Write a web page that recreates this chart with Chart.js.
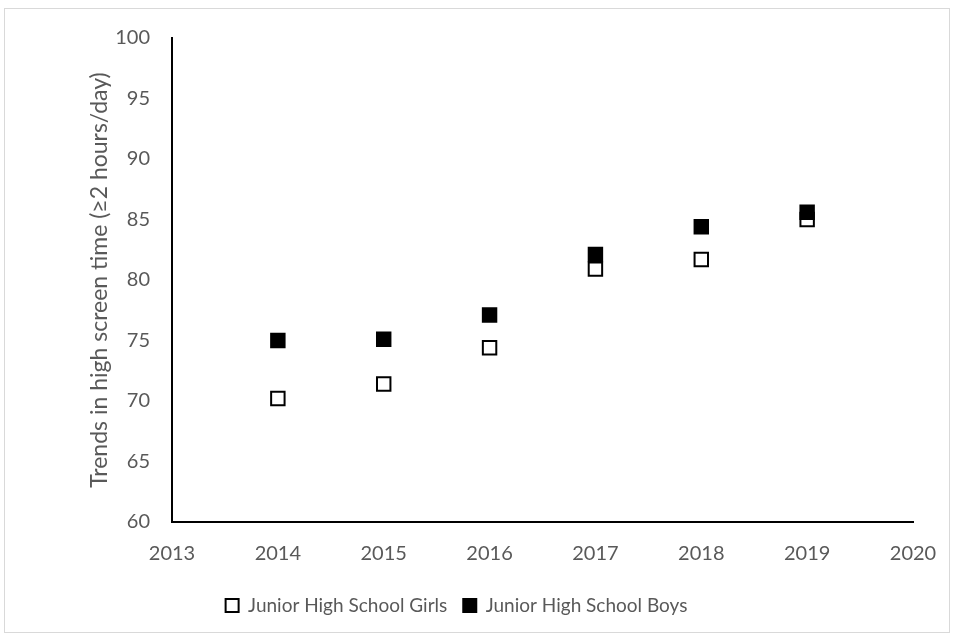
<!DOCTYPE html>
<html>
<head>
<meta charset="utf-8">
<script src="https://cdn.jsdelivr.net/npm/chart.js@4/dist/chart.umd.min.js"></script>
<style>
  html, body { margin: 0; padding: 0; background: #ffffff; }
  #wrap { position: relative; width: 955px; height: 639px; }
  #frame { position: absolute; left: 4px; top: 8px; width: 946px; height: 625px;
           border: 1px solid #d9d9d9; pointer-events: none; box-sizing: border-box; }
  canvas { display: block; }
</style>
</head>
<body>
<div id="wrap">
  <canvas id="chart" width="955" height="639"></canvas>
  <div id="frame"></div>
</div>
<script>
// Survey years and share of students with high screen time (%)
const years = [2014, 2015, 2016, 2017, 2018, 2019];
const girls = [70.2, 71.4, 74.4, 80.9, 81.7, 85.0];
const boys  = [75.0, 75.1, 77.1, 82.1, 84.4, 85.6];

const seriesNames = ['Junior High School Girls', 'Junior High School Boys'];
const yTitle = 'Trends in high screen time (\u22652 hours/day)';
const xRange = [2013, 2020];
const yRange = [60, 100];

const textColor = '#595959';
const fontFamily = 'Lato, Carlito, Calibri, sans-serif';

const toPoints = (vals) => years.map((yr, i) => ({ x: yr, y: vals[i] }));

new Chart(document.getElementById('chart'), {
  type: 'scatter',
  data: {
    datasets: [
      {
        label: seriesNames[0],
        data: toPoints(girls),
        pointStyle: 'rect',
        pointRadius: 9.5,
        pointHoverRadius: 9.5,
        backgroundColor: '#ffffff',
        borderColor: '#000000',
        borderWidth: 2,
        order: 1
      },
      {
        label: seriesNames[1],
        data: toPoints(boys),
        pointStyle: 'rect',
        pointRadius: 9.5,
        pointHoverRadius: 9.5,
        backgroundColor: '#000000',
        borderColor: '#000000',
        borderWidth: 2,
        order: 0
      }
    ]
  },
  options: {
    responsive: false,
    animation: false,
    layout: { padding: { left: 0, right: 42, top: 38, bottom: 14 } },
    plugins: {
      tooltip: { enabled: false },
      legend: {
        position: 'bottom',
        labels: {
          color: textColor,
          font: { family: fontFamily, size: 19 },
          boxWidth: 13,
          boxHeight: 13,
          padding: 16,
          sort: (a, b) => a.datasetIndex - b.datasetIndex
        }
      }
    },
    scales: {
      x: {
        type: 'linear',
        min: xRange[0],
        max: xRange[1],
        grid: { display: false },
        border: { display: true, color: '#000000', width: 2 },
        ticks: {
          stepSize: 1,
          color: textColor,
          font: { family: fontFamily, size: 20 },
          padding: 12,
          callback: (v) => String(v)
        },
        afterFit: (s) => { s.height = 58; }
      },
      y: {
        min: yRange[0],
        max: yRange[1],
        grid: { display: false },
        border: { display: true, color: '#000000', width: 2 },
        ticks: {
          stepSize: 5,
          color: textColor,
          font: { family: fontFamily, size: 20 },
          padding: 14
        },
        title: {
          display: true,
          text: yTitle,
          color: textColor,
          font: { family: fontFamily, size: 23 },
          padding: { top: 86, bottom: 4 }
        },
        afterFit: (s) => { s.width = 172; }
      }
    }
  }
});
</script>
</body>
</html>
